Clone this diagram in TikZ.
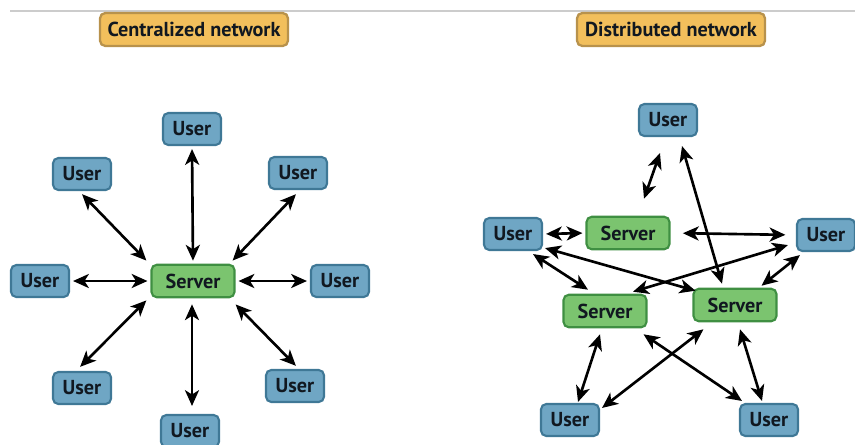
\documentclass[tikz,border=0pt]{standalone}
\usepackage{fontspec}
\setsansfont{PT Sans}
\usetikzlibrary{arrows.meta}

\definecolor{titlefill}{HTML}{F2BF5C}
\definecolor{titleline}{HTML}{B8924C}
\definecolor{userfill}{HTML}{6FA6C4}
\definecolor{userline}{HTML}{3F7896}
\definecolor{srvfill}{HTML}{7BC46F}
\definecolor{srvline}{HTML}{3F8F42}
\definecolor{boxtext}{HTML}{111820}

\begin{document}
\begin{tikzpicture}[
    x=0.02cm, y=-0.02cm,
    every node/.style={font=\sffamily\bfseries\fontsize{11.5}{13}\selectfont, text=boxtext, inner sep=0pt},
    hdr/.style={draw=titleline, fill=titlefill, line width=1.3pt, rounded corners=3pt,
                minimum width=3.76cm, minimum height=0.66cm, font=\sffamily\bfseries\fontsize{11.5}{13}\selectfont},
    usr/.style={draw=userline, fill=userfill, line width=1.2pt, rounded corners=3pt,
                minimum width=1.16cm, minimum height=0.64cm},
    srv/.style={draw=srvline, fill=srvfill, line width=1.2pt, rounded corners=3pt,
                minimum width=1.66cm, minimum height=0.65cm},
    link/.style={{Stealth[length=9pt,width=8pt,inset=2.5pt]}-{Stealth[length=9pt,width=8pt,inset=2.5pt]}, line width=1.5pt, black},
    gap/.style={shorten <=1.7pt, shorten >=1.7pt}
]
  \useasboundingbox (0,0) rectangle (855,444);
  \draw[gray!40, line width=0.6pt] (10,11) -- (855,11);

  % Titles
  \node[hdr] (tcen) at (194,29.5) {Centralized network};
  \node[hdr] (tdis) at (671,29.5) {Distributed network};

  % Centralized: one server, eight users round it
  \node[srv] (cs) at (193,281) {Server};
  \node[usr] (cu1) at (192,129) {User};
  \node[usr] (cu2) at (82,174) {User};
  \node[usr] (cu3) at (298,173) {User};
  \node[usr] (cu4) at (40,281) {User};
  \node[usr] (cu5) at (340,281) {User};
  \node[usr] (cu6) at (82,388) {User};
  \node[usr] (cu7) at (295,386) {User};
  \node[usr] (cu8) at (190,431) {User};

  \draw[link, gap] (cs.north) -- (cu1.south);
  \draw[link, gap] ([shift={(-2,-1)}]cs.north west) -- ([shift={(-2,1)}]cu2.south);
  \draw[link, gap] ([shift={(-5,-1)}]cs.north east) -- ([shift={(0,2)}]cu3.south);
  \draw[link, gap] (cs.west) -- (cu4.east);
  \draw[link, gap] (cs.east) -- (cu5.west);
  \draw[link, gap] ([shift={(-2,0)}]cs.south west) -- ([shift={(-4,-2)}]cu6.north);
  \draw[link] ([shift={(-1,6)}]cs.south) -- ([shift={(2,-8)}]cu8.north);
  \draw[link, gap] ([shift={(-2,4)}]cs.south east) -- ([shift={(3,-1)}]cu7.north);

  % Distributed: three servers, five users
  \node[usr] (du1) at (668,120) {User};
  \node[usr] (du2) at (513,234) {User};
  \node[srv] (ds1) at (628,233) {Server};
  \node[usr] (du3) at (826,235) {User};
  \node[srv] (ds2) at (605,311) {Server};
  \node[srv] (ds3) at (735,305) {Server};
  \node[usr] (du4) at (570,420) {User};
  \node[usr] (du5) at (769,420) {User};

  \draw[link] ([shift={(-8,16)}]du1.south) -- ([shift={(16,-17)}]ds1.north);
  \draw[link] ([shift={(14,9)}]du1.south) -- ([shift={(-13,-4)}]ds3.north);
  \draw[link, gap] (du2.east) -- (ds1.west);
  \draw[link, shorten <=7pt, shorten >=6pt] (ds1.east) -- (du3.west);
  \draw[link] ([shift={(20,3)}]du2.south) -- ([shift={(-17,-4)}]ds2.north);
  \draw[link] ([shift={(2,-3)}]du2.south east) -- ([shift={(3,3)}]ds3.north west);
  \draw[link] ([shift={(-8,-7)}]du3.south west) -- ([shift={(28,-2)}]ds2.north);
  \draw[link] ([shift={(4,3)}]du3.south west) -- ([shift={(-16,-2)}]ds3.north east);
  \draw[link] ([shift={(-5,6)}]ds2.south) -- ([shift={(8,-1)}]du4.north);
  \draw[link] ([shift={(-4,6)}]ds2.south east) -- ([shift={(3,-2)}]du5.north west);
  \draw[link] ([shift={(11,7)}]ds3.south west) -- ([shift={(2,5)}]du4.north east);
  \draw[link] ([shift={(5,7)}]ds3.south) -- ([shift={(-7,-2)}]du5.north);
\end{tikzpicture}
\end{document}
